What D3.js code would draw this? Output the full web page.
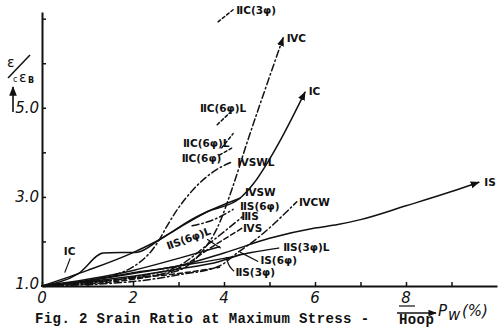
<!DOCTYPE html>
<html lang="en">
<head>
<meta charset="UTF-8">
<title>Fig. 2 Srain Ratio</title>
<style>
  body { margin: 0; background: #fff; }
  svg { display: block; }
  .lbl { font-family: "DejaVu Sans", sans-serif; font-weight: bold; font-size: 10.5px; fill: #111; }
  .tk { font-family: "DejaVu Sans", sans-serif; font-style: italic; font-size: 15px; fill: #111; }
  .cap { font-family: "Liberation Mono", monospace; font-weight: bold; font-size: 14px; letter-spacing: 0.4px; fill: #111; }
</style>
</head>
<body>
<script src="https://cdnjs.cloudflare.com/ajax/libs/d3/7.8.5/d3.min.js"></script>
<script>
// ---- data (x = Pw %, y = eps_c / eps_B) ----
var xTicks = [0, 1, 2, 3, 4, 5, 6, 7, 8, 9];
var xTickLabels = ["0", "2", "4", "6", "8"];
var xTickLabelAt = [0, 2, 4, 6, 8];
var yTicks = [1, 2, 3, 4, 5, 6, 7];
var yTickLabels = ["1.0", "3.0", "5.0"];
var yTickLabelAt = [1, 3, 5];

var sIS = [[0,1],[1,1.12],[2,1.3],[3,1.45],[4,1.74],[5,2.07],[6,2.3],[6.5,2.38],[7,2.49],[8,2.8],[9,3.12],[9.6,3.33]];
var sIC = [[0,1],[0.8,1.28],[1.35,1.74],[2.1,1.76],[2.6,2.05],[3.0,2.3],[3.6,2.65],[4.35,2.97],[4.65,3.3],[4.95,3.76],[5.27,4.33],[5.78,5.35]];
var sTSW = [[0,1],[1,1.35],[2,1.75],[2.6,2.05],[3.3,2.5],[4.35,2.97]];
var sTSWL = [[0,1],[1,1.12],[2,1.43],[2.55,1.99],[2.75,2.35],[2.97,2.71],[3.32,3.16],[3.76,3.56],[4.18,3.79]];
var sIVC = [[0,1],[1,1.08],[2,1.18],[3,1.35],[3.5,1.75],[3.85,2.3],[4.2,3.25],[4.5,4.2],[4.9,5.4],[5.3,6.57]];
var sIVCW = [[0,1],[2,1.1],[3,1.25],[3.9,1.45],[4.3,1.75],[4.68,2.03],[5.6,2.89]];
var sIIC3 = [[3.87,6.93],[4.2,7.2]];
var sIIC6La = [[3.85,4.62],[4.13,4.89]];
var sIIC6Lb = [[3.95,4.1],[4.2,4.42]];
var sIIC6 = [[3.9,3.94],[4.18,4.1]];
var sIIS3L = [[0,1],[1,1.12],[2,1.28],[3,1.45],[4,1.62],[4.6,1.75],[5.2,1.85]];
var sIS6 = [[0,1],[1,1.1],[2,1.22],[3,1.38],[3.9,1.55],[4.35,1.7]];
var sIIS3 = [[0,1],[1,1.08],[2,1.18],[3,1.28],[3.9,1.42]];
var sIIS6L = [[0,1],[1,1.15],[2,1.35],[3,1.62],[3.9,1.88]];
var sIIIS = [[0,1],[2,1.2],[3,1.45],[3.63,1.92],[4.4,2.55]];
var sIVS = [[0,1],[2,1.15],[3,1.4],[3.8,1.92],[4.4,2.3]];
var sIIS6 = [[3.3,2.35],[3.8,2.5],[4.2,2.72]];

// curve labels: text, x, y (data units)
var labels = [
  ["IS", 9.72, 3.33], ["IC", 5.86, 5.37], ["ⅣC", 5.38, 6.57], ["ⅡC(3φ)", 4.27, 7.2],
  ["ⅡC(6φ)L", 3.47, 5.0], ["ⅡC(6φ)L", 3.1, 4.2], ["ⅡC(6φ)", 3.07, 3.87],
  ["ⅣSWL", 4.29, 3.79], ["ⅣSW", 4.46, 3.11], ["ⅡS(6φ)", 4.35, 2.8], ["ⅢS", 4.38, 2.56],
  ["ⅣS", 4.42, 2.31], ["ⅣCW", 5.65, 2.89], ["ⅡS(3φ)L", 5.3, 1.88], ["IS(6φ)", 4.8, 1.58],
  ["ⅡS(3φ)", 4.25, 1.31], ["IC", 0.48, 1.78]
];
var leaders = [
  [[0.62,1.62],[0.5,1.3]],
  [[3.63,2.05],[3.93,1.85]],
  [[4.35,1.76],[4.75,1.55]],
  [[4.05,1.65],[4.1,1.45],[4.22,1.33]]
];

var W = 500, H = 333;
var svg = d3.select('body').append('svg').attr('width', W).attr('height', H);

var x = d3.scaleLinear().domain([0, 10]).range([42, 497]);
var y = d3.scaleLinear().domain([1, 7.15]).range([286, 12]);

// axes
var yAxis = d3.axisLeft(y).tickValues(yTicks).tickSizeInner(-4).tickSizeOuter(0).tickFormat('');
var xAxis = d3.axisBottom(x).tickValues(xTicks).tickSizeInner(-4).tickSizeOuter(0).tickFormat('');
var gy = svg.append('g').attr('transform', 'translate(' + x(0) + ',0)').call(yAxis);
var gx = svg.append('g').attr('transform', 'translate(0,' + y(1) + ')').call(xAxis);
[gy, gx].forEach(function(g) {
  g.select('.domain').attr('stroke', '#111').attr('stroke-width', 2);
  g.selectAll('.tick line').attr('stroke', '#111').attr('stroke-width', 1.5);
});

svg.selectAll('.xl').data(xTickLabels).enter().append('text')
  .attr('class', 'tk').attr('text-anchor', 'middle')
  .attr('x', function(d, i) { return x(xTickLabelAt[i]); })
  .attr('y', y(1) + 17)
  .text(function(d) { return d; });
svg.selectAll('.yl').data(yTickLabels).enter().append('text')
  .attr('class', 'tk').attr('text-anchor', 'end')
  .attr('x', x(0) - 3)
  .attr('y', function(d, i) { return y(yTickLabelAt[i]) + (i === 0 ? 3 : 5); })
  .text(function(d) { return d; });

// arrow head
svg.append('defs').append('marker')
  .attr('id', 'arr').attr('viewBox', '0 0 10 10').attr('refX', 9).attr('refY', 5)
  .attr('markerWidth', 6).attr('markerHeight', 6).attr('orient', 'auto')
  .append('path').attr('d', 'M0,1 L10,5 L0,9 Z').attr('fill', '#111');

var SOLID = null, DASH = '5,3', DASHDOT = '7,3,1.5,3', SHORT = '3,2.5';
var draw = [
  { d: sIS, dash: SOLID, arrow: true }, { d: sIC, dash: SOLID, arrow: true },
  { d: sTSW, dash: SOLID }, { d: sTSWL, dash: DASHDOT },
  { d: sIVC, dash: DASHDOT, arrow: true }, { d: sIVCW, dash: DASHDOT },
  { d: sIIC3, dash: SHORT }, { d: sIIC6La, dash: SHORT }, { d: sIIC6Lb, dash: SHORT }, { d: sIIC6, dash: SHORT },
  { d: sIIS3L, dash: SOLID }, { d: sIS6, dash: SOLID }, { d: sIIS3, dash: DASH },
  { d: sIIS6L, dash: SOLID }, { d: sIIIS, dash: DASHDOT }, { d: sIVS, dash: DASH }, { d: sIIS6, dash: DASHDOT }
];

var line = d3.line().x(function(d) { return x(d[0]); }).y(function(d) { return y(d[1]); })
  .curve(d3.curveMonotoneX);

draw.forEach(function(s) {
  var p = svg.append('path').datum(s.d)
    .attr('d', line).attr('fill', 'none').attr('stroke', '#111')
    .attr('stroke-width', 1.5).attr('stroke-linecap', 'round');
  if (s.dash) p.attr('stroke-dasharray', s.dash);
  if (s.arrow) p.attr('marker-end', 'url(#arr)');
});

var lline = d3.line().x(function(d) { return x(d[0]); }).y(function(d) { return y(d[1]); }).curve(d3.curveBasis);
leaders.forEach(function(l) {
  svg.append('path').datum(l).attr('d', lline).attr('fill', 'none')
    .attr('stroke', '#111').attr('stroke-width', 1.2);
});

svg.selectAll('.cl').data(labels).enter().append('text')
  .attr('class', 'lbl')
  .attr('x', function(d) { return x(d[1]); })
  .attr('y', function(d) { return y(d[2]) + 4; })
  .text(function(d) { return d[0]; });

// rotated label on the lower bundle
svg.append('text').attr('class', 'lbl').attr('text-anchor', 'middle')
  .attr('transform', 'translate(' + x(3.25) + ',' + (y(2.08) + 4) + ') rotate(-20)')
  .text('ⅡS(6φ)L');

// y-axis title  eps_c / eps_B
var yt = svg.append('g').attr('font-family', 'DejaVu Sans, sans-serif').attr('fill', '#111');
yt.append('text').attr('x', 7).attr('y', 67).attr('font-size', 14).text('ε');
yt.append('line').attr('x1', 8).attr('y1', 78).attr('x2', 30).attr('y2', 55).attr('stroke', '#111').attr('stroke-width', 1.5);
yt.append('text').attr('x', 13).attr('y', 82).attr('font-size', 8).text('c');
yt.append('text').attr('x', 19).attr('y', 82).attr('font-size', 14).text('ε');
yt.append('text').attr('x', 28).attr('y', 83).attr('font-size', 8).attr('font-weight', 'bold').text('B');
svg.append('line').attr('x1', 13).attr('y1', 112).attr('x2', 13).attr('y2', 87)
  .attr('stroke', '#111').attr('stroke-width', 1.6).attr('marker-end', 'url(#arr)');

// x-axis title near 8
svg.append('line').attr('x1', 399).attr('y1', 306).attr('x2', 415).attr('y2', 306).attr('stroke', '#111').attr('stroke-width', 1.2);
svg.append('line').attr('x1', 397).attr('y1', 313).attr('x2', 436).attr('y2', 313)
  .attr('stroke', '#111').attr('stroke-width', 1.4).attr('marker-end', 'url(#arr)');
svg.append('text').attr('class', 'tk').attr('x', 438).attr('y', 316).attr('font-size', 16).text('P');
svg.append('text').attr('class', 'tk').attr('x', 448).attr('y', 320).attr('font-size', 8).text('w');
svg.append('text').attr('class', 'tk').attr('x', 462).attr('y', 316).attr('font-size', 15).text('(%)');

// caption
svg.append('text').attr('class', 'cap').attr('x', 35).attr('y', 323).text('Fig. 2 Srain Ratio at Maximum Stress -');
svg.append('text').attr('class', 'cap').attr('x', 399).attr('y', 324).attr('font-size', 12).text('Hoop');
</script>
</body>
</html>
